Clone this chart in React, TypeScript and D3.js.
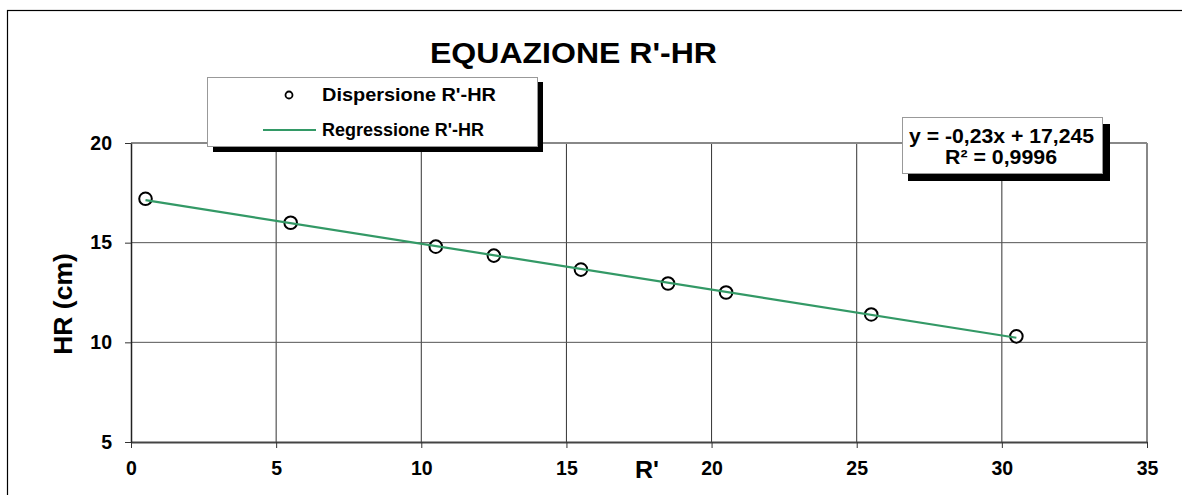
import { useEffect, useRef } from "react";
import * as d3 from "d3";

const rValues = [0.5, 5.5, 10.5, 12.5, 15.5, 18.5, 20.5, 25.5, 30.5];
const hrValues = [17.2, 16.0, 14.8, 14.35, 13.65, 12.95, 12.5, 11.4, 10.3];
const xTicks = [0, 5, 10, 15, 20, 25, 30, 35];
const yTicks = [5, 10, 15, 20];
const slope = -0.23;
const intercept = 17.245;
const equationLines = ["y = -0,23x + 17,245", "R² = 0,9996"];
const legendLabels = ["Dispersione R'-HR", "Regressione R'-HR"];

const App = () => {
  const svgRef = useRef<SVGSVGElement | null>(null);
  const width = 1182;
  const height = 495;
  const margin = { top: 143, right: 35, bottom: 53, left: 131 };
  const font = "'Liberation Sans', Arial, sans-serif";
  const green = "#339966";

  useEffect(() => {
    const svg = d3.select(svgRef.current);
    svg.selectAll("*").remove();

    const x = d3.scaleLinear().domain([0, 35]).range([margin.left, width - margin.right]);
    const y = d3.scaleLinear().domain([5, 20]).range([height - margin.bottom, margin.top]);

    // outer frame
    svg.append("rect").attr("x", 7.5).attr("y", 10.5).attr("width", width).attr("height", height)
      .attr("fill", "white").attr("stroke", "black").attr("stroke-width", 1.2);

    // title
    svg.append("text").attr("x", 430).attr("y", 63)
      .attr("textLength", 287).attr("lengthAdjust", "spacingAndGlyphs")
      .attr("font-family", font).attr("font-weight", "bold").attr("font-size", 29)
      .text("EQUAZIONE R'-HR");

    // grid
    svg.append("g").selectAll("line").data(xTicks.filter((d) => d > 0 && d < 35)).enter().append("line")
      .attr("x1", (d) => x(d)).attr("x2", (d) => x(d))
      .attr("y1", y(20)).attr("y2", y(5)).attr("stroke", "#333").attr("stroke-width", 1);
    svg.append("g").selectAll("line").data(yTicks.filter((d) => d > 5 && d < 20)).enter().append("line")
      .attr("x1", x(0)).attr("x2", x(35))
      .attr("y1", (d) => y(d)).attr("y2", (d) => y(d)).attr("stroke", "#555").attr("stroke-width", 1);

    // plot border top/right
    svg.append("line").attr("x1", x(0)).attr("x2", x(35)).attr("y1", y(20)).attr("y2", y(20))
      .attr("stroke", "#888").attr("stroke-width", 2);
    svg.append("line").attr("x1", x(35)).attr("x2", x(35)).attr("y1", y(20)).attr("y2", y(5))
      .attr("stroke", "#888").attr("stroke-width", 2);

    // axes
    const xAxis = svg.append("g").attr("transform", `translate(0,${y(5)})`)
      .call(d3.axisBottom(x).tickValues(xTicks).tickSize(6).tickSizeOuter(0).tickPadding(13));
    xAxis.select(".domain").attr("stroke", "#444").attr("stroke-width", 2);
    xAxis.selectAll(".tick line").attr("stroke", "#333");
    xAxis.selectAll("text").attr("font-family", font).attr("font-weight", "bold")
      .attr("font-size", 19.5).attr("fill", "black");

    const yAxis = svg.append("g").attr("transform", `translate(${x(0)},0)`)
      .call(d3.axisLeft(y).tickValues(yTicks).tickSize(6).tickSizeOuter(0).tickPadding(13));
    yAxis.select(".domain").attr("stroke", "#222").attr("stroke-width", 1.5);
    yAxis.selectAll(".tick line").attr("stroke", "#333");
    yAxis.selectAll("text").attr("font-family", font).attr("font-weight", "bold")
      .attr("font-size", 19.5).attr("fill", "black");

    // axis titles
    svg.append("text").attr("x", 635).attr("y", 478)
      .attr("textLength", 24).attr("lengthAdjust", "spacingAndGlyphs")
      .attr("font-family", font).attr("font-weight", "bold").attr("font-size", 23).text("R'");
    svg.append("text").attr("transform", `translate(72,304) rotate(-90)`).attr("text-anchor", "middle")
      .attr("font-family", font).attr("font-weight", "bold").attr("font-size", 26.5).text("HR (cm)");

    // points
    const pts = rValues.map((r, i) => ({ r, hr: hrValues[i] }));
    svg.append("g").selectAll("circle").data(pts).enter().append("circle")
      .attr("cx", (d) => x(d.r)).attr("cy", (d) => y(d.hr)).attr("r", 6.3)
      .attr("fill", "white").attr("stroke", "black").attr("stroke-width", 2);

    // regression line
    const xMin = d3.min(rValues) as number;
    const xMax = d3.max(rValues) as number;
    svg.append("line").attr("x1", x(xMin)).attr("y1", y(slope * xMin + intercept))
      .attr("x2", x(xMax)).attr("y2", y(slope * xMax + intercept))
      .attr("stroke", green).attr("stroke-width", 2.2);

    // legend
    const lg = svg.append("g");
    lg.append("rect").attr("x", 213).attr("y", 82).attr("width", 330).attr("height", 70).attr("fill", "black");
    lg.append("rect").attr("x", 207.5).attr("y", 77.5).attr("width", 330).attr("height", 69)
      .attr("fill", "white").attr("stroke", "#999").attr("stroke-width", 1);
    lg.append("circle").attr("cx", 289).attr("cy", 95).attr("r", 3.5)
      .attr("fill", "white").attr("stroke", "black").attr("stroke-width", 1.8);
    lg.append("line").attr("x1", 263).attr("x2", 316).attr("y1", 130).attr("y2", 130)
      .attr("stroke", green).attr("stroke-width", 2.2);
    lg.selectAll("text").data(legendLabels).enter().append("text")
      .attr("x", 322).attr("y", (_d, i) => 101 + i * 35)
      .attr("textLength", (_d, i) => (i === 0 ? 174 : 162)).attr("lengthAdjust", "spacingAndGlyphs")
      .attr("font-family", font).attr("font-weight", "bold").attr("font-size", 18)
      .text((d) => d);

    // equation box
    const eq = svg.append("g");
    eq.append("rect").attr("x", 908).attr("y", 124).attr("width", 202).attr("height", 57).attr("fill", "black");
    eq.append("rect").attr("x", 902.5).attr("y", 117.5).attr("width", 200).attr("height", 56)
      .attr("fill", "white").attr("stroke", "#999").attr("stroke-width", 1);
    eq.selectAll("text").data(equationLines).enter().append("text")
      .attr("x", (_d, i) => (i === 0 ? 909 : 945)).attr("y", (_d, i) => 143 + i * 21)
      .attr("textLength", (_d, i) => (i === 0 ? 185 : 112)).attr("lengthAdjust", "spacingAndGlyphs")
      .attr("font-family", font).attr("font-weight", "bold").attr("font-size", 20)
      .text((d) => d);
  }, []);

  return (
    <svg ref={svgRef} width={width} height={height}
      style={{ position: "absolute", left: 0, top: 0, display: "block" }} />
  );
};

export default App;
